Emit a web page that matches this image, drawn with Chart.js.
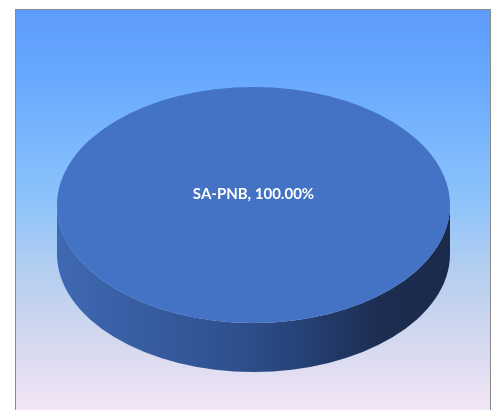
<!DOCTYPE html>
<html>
<head>
<meta charset="utf-8">
<script src="https://cdn.jsdelivr.net/npm/chart.js@4.4.1/dist/chart.umd.min.js"></script>
<style>
  html, body { margin: 0; padding: 0; overflow: hidden; background: #fff; }
  #frame {
    position: absolute; left: 15px; top: 9px; width: 474px; height: 420px;
    border: 1px solid #8a8a8a;
    background: linear-gradient(to bottom, #5d9bfc 0%, #66a8ff 15%, #8cc3fb 45%, #b4cef0 62%, #d6d9ee 80%, #fbe9f8 100%);
  }
  #chart { position: absolute; left: 0; top: 0; }
</style>
</head>
<body>
<div id="frame"></div>
<canvas id="chart" width="496" height="410"></canvas>
<script>
// data
const categorias = ['SA-PNB']
const valores = [100]
const cores = ['#4472C4']

// 3D look
const inclinacao = 0.6   // squash of the top face
const profundidade = 49  // thickness of the side

// draws the side wall and squashes the pie so it looks like a 3D disc
const pizza3d = {
  id: 'pizza3d',
  beforeDatasetsDraw(chart) {
    const ctx = chart.ctx
    const arc = chart.getDatasetMeta(0).data[0]
    const cx = arc.x, cy = arc.y
    const rx = arc.outerRadius, ry = rx * inclinacao

    const grad = ctx.createLinearGradient(cx - rx, 0, cx + rx, 0)
    grad.addColorStop(0, '#3f69b3')
    grad.addColorStop(0.5, '#2c4d8a')
    grad.addColorStop(0.82, '#1c2d51')
    grad.addColorStop(1, '#1a2a4a')

    ctx.save()
    ctx.beginPath()
    ctx.moveTo(cx + rx, cy)
    ctx.lineTo(cx + rx, cy + profundidade)
    ctx.ellipse(cx, cy + profundidade, rx, ry, 0, 0, Math.PI)
    ctx.lineTo(cx - rx, cy)
    ctx.ellipse(cx, cy, rx, ry, 0, Math.PI, 0, true)
    ctx.closePath()
    ctx.fillStyle = grad
    ctx.fill()
    ctx.restore()

    ctx.save()
    ctx.translate(cx, cy)
    ctx.scale(1, inclinacao)
    ctx.translate(-cx, -cy)
  },
  afterDatasetsDraw(chart) {
    const ctx = chart.ctx
    ctx.restore()

    const arc = chart.getDatasetMeta(0).data[0]
    const total = valores.reduce((a, b) => a + b, 0)
    const texto = categorias[0] + ', ' + (valores[0] / total * 100).toFixed(2) + '%'

    ctx.save()
    ctx.fillStyle = '#ffffff'
    ctx.font = 'bold 15px Lato'
    ctx.textAlign = 'center'
    ctx.textBaseline = 'middle'
    ctx.fillText(texto, arc.x, arc.y - 11)
    ctx.restore()
  }
}

new Chart(document.getElementById('chart'), {
  type: 'pie',
  data: {
    labels: categorias,
    datasets: [{
      data: valores,
      backgroundColor: cores,
      borderWidth: 0,
      offset: 0,
      hoverOffset: 0
    }]
  },
  options: {
    responsive: false,
    animation: false,
    events: [],
    layout: { padding: { left: 57, right: 46, top: 8.5, bottom: 8.5 } },
    plugins: {
      legend: { display: false },
      tooltip: { enabled: false }
    }
  },
  plugins: [pizza3d]
})
</script>
</body>
</html>
